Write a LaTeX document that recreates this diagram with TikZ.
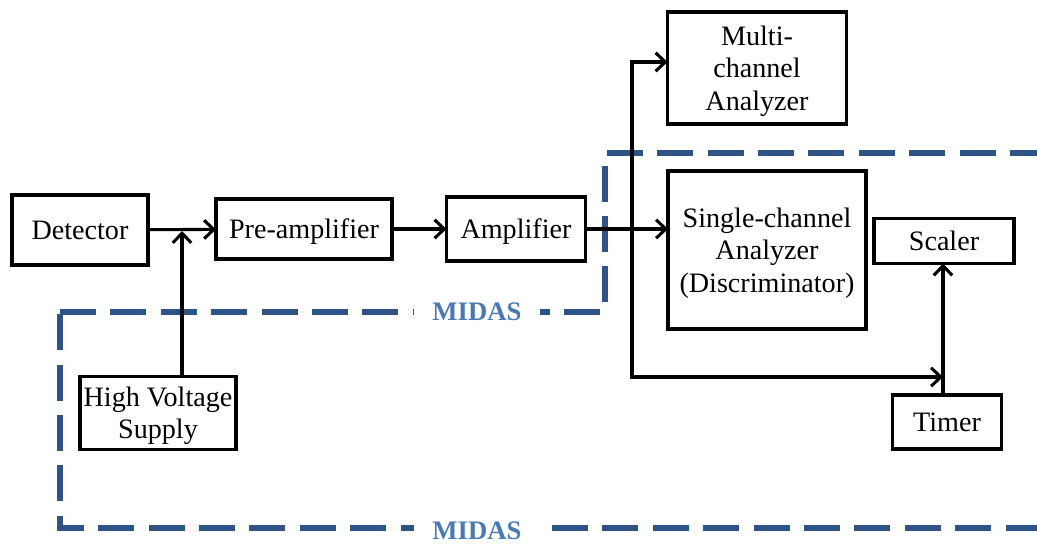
\documentclass[tikz,border=0pt]{standalone}
\usepackage{fontspec}
\setmainfont{Liberation Serif}
\newfontfamily\boxfont{Liberation Serif}
\usepackage{tikz}
\usetikzlibrary{arrows.meta,positioning,calc}
\definecolor{midasline}{HTML}{2E5486}
\definecolor{midastext}{HTML}{4A7AB4}

\begin{document}
\begin{tikzpicture}[x=0.025cm,y=-0.025cm,
  font=\boxfont\fontsize{20}{23}\selectfont,
  ar/.style={line width=2.2pt,-{Straight Barb[length=2.4mm,width=4.6mm,line width=2.2pt]}},
  blk/.style={draw,line width=2.2pt,align=center,inner sep=0pt,outer sep=0pt,text depth=0pt},
  zone/.style={draw=midasline,line width=3.6pt,dash pattern=on 0.9cm off 0.36cm,line join=miter},
  lab/.style={fill=white,text=midastext,inner xsep=0.45cm,inner ysep=1pt,font=\boxfont\fontsize{19}{21}\selectfont\bfseries}]
\useasboundingbox (0,0) rectangle (1037,544);

\draw[zone] (60,312) -- (605,312) -- (605,153) -- (1040,153) -- (1040,528) -- (60,528) -- cycle;
\node[lab] (m1) at (477,312) {MIDAS};
\node[lab] (m2) at (477,531) {MIDAS};

\node[blk,minimum width=3.4cm,minimum height=1.75cm] (det) at (80,230) {Detector};
\node[blk,minimum width=4.4cm,minimum height=1.5cm] (pre) at (304,229) {Pre-amplifier};
\node[blk,minimum width=3.475cm,minimum height=1.6cm] (amp) at (516,229) {Amplifier};
\node[blk,minimum width=4.475cm,minimum height=2.8cm] (mca) at (757,68) {Multi-\\channel\\Analyzer};
\node[blk,minimum width=4.95cm,minimum height=3.95cm] (sca) at (767,250) {Single-channel\\Analyzer\\(Discriminator)};
\node[blk,minimum width=3.5cm,minimum height=1.125cm] (scl) at (944,241) {Scaler};
\node[blk,minimum width=2.725cm,minimum height=1.35cm] (tim) at (947,422) {Timer};
\node[blk,minimum width=3.9cm,minimum height=1.825cm] (hv) at (158,413) {High Voltage\\Supply};

\coordinate (hj) at (182,231);
\coordinate (tap) at (632,229);
\coordinate (tj) at (943,377);

\draw[ar] (det) -- (pre);
\draw[ar] (hv.north -| hj) -- (hj);
\draw[ar] (pre) -- (amp);
\draw[ar] (amp.east) -- (amp.east -| sca.west);
\draw[ar] (tap) |- ([yshift=0.15cm]mca.west);
\draw[ar] (tap) |- (tj);
\draw[ar] (tim.north -| tj) -- (scl.south -| tj);
\end{tikzpicture}
\end{document}
